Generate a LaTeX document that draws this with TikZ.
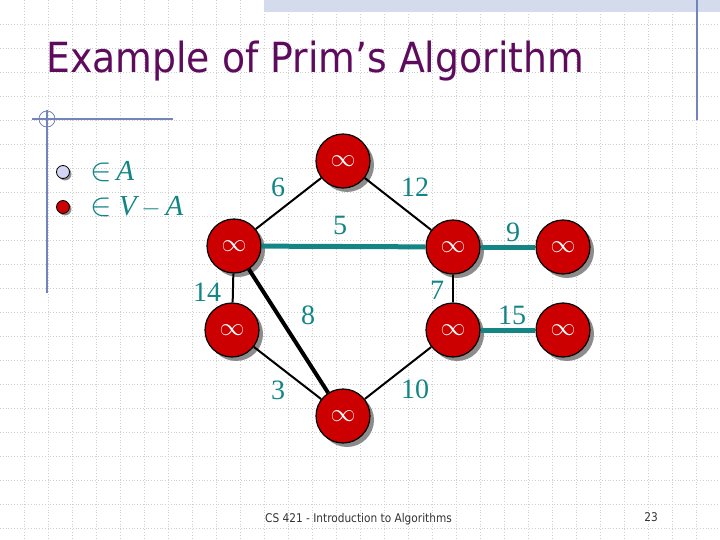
\documentclass[tikz,border=0pt]{standalone}
\usepackage{fontspec}
\setmainfont{Liberation Serif}
\newfontfamily\slidefont[FakeStretch=0.91]{DejaVu Sans}
\newfontfamily\footfont[FakeStretch=0.88]{DejaVu Sans}
\usepackage{tikz}
\usetikzlibrary{positioning,shadows}
\usepackage{xcolor}
\definecolor{primred}{HTML}{CC0000}
\definecolor{primteal}{HTML}{138585}
\definecolor{primpurple}{HTML}{5E0B5E}
\definecolor{rulerblue}{HTML}{7384BA}
\definecolor{bandblue}{HTML}{D3DBEC}
\definecolor{gridgrey}{HTML}{CFCFCF}
\definecolor{shadowgrey}{HTML}{8C8C8C}
\definecolor{setAfill}{HTML}{D4D4F4}
\newcommand{\elemof}{\scalebox{1.3}{$\in$}}
\tikzset{
  gridline/.style={
    draw=gridgrey,
    line width=0.8pt,
    dotted
  },
  ruler/.style={
    draw=rulerblue,
    line width=1.2pt
  },
  vertex/.style={
    circle,
    draw=black,
    line width=1.2pt,
    fill=primred,
    minimum size=54pt,
    inner sep=0pt,
    text=white,
    font=\fontsize{26}{26}\selectfont,
    drop shadow={shadow xshift=4pt, shadow yshift=-4pt, fill=shadowgrey, opacity=1}
  },
  legendball/.style={
    circle,
    draw=black,
    line width=0.8pt,
    minimum size=13pt,
    inner sep=0pt,
    drop shadow={shadow xshift=2pt, shadow yshift=-2pt, fill=shadowgrey, opacity=1}
  },
  plainedge/.style={
    draw=black,
    line width=2pt
  },
  heavyedge/.style={
    draw=black,
    line width=4pt
  },
  treeedge/.style={
    draw=primteal,
    line width=5pt
  },
  weight/.style={
    text=primteal,
    inner sep=0pt,
    font=\fontsize{28}{28}\selectfont
  },
  legendtext/.style={
    text=primteal,
    inner sep=0pt,
    font=\fontsize{29}{29}\selectfont\itshape
  },
  titletext/.style={
    text=primpurple,
    inner sep=0pt,
    font=\slidefont\fontsize{41.5}{42}\selectfont
  },
  footer/.style={
    text=black!80,
    inner sep=0pt,
    font=\footfont\fontsize{12}{12}\selectfont
  }
}
\begin{document}
\begin{tikzpicture}[x=1pt,y=-1pt]
\useasboundingbox (0,0) rectangle (720,540);
% slide background
\foreach \gx in {24,48,...,696} \draw[gridline] (\gx,0) -- (\gx,540);
\foreach \gy in {24,48,...,528} \draw[gridline] (0,\gy) -- (720,\gy);
\fill[bandblue] (264,0) rectangle (720,12);
\draw[ruler] (697,0) -- (697,120);
\draw[ruler] (32,119) -- (173,119);
\draw[ruler] (47,110) -- (47,293);
\draw[ruler, line width=0.8pt] (47,119) circle[radius=8];

\node[titletext, anchor=base west] (title) at (46,73) {Example of Prim’s Algorithm};

% legend
\node[legendball, fill=setAfill] (inA) at (63,172) {};
\node[legendball, fill=primred] (notA) at (63,207) {};
\node[legendtext, right=20pt of inA] (inAtext) {\elemof\,A};
\node[legendtext, right=20pt of notA] (notAtext) {\elemof\ V\,$-$\,A};

% vertices
\node[vertex] (top) at (343,161) {$\infty$};
\node[vertex] (lmid) at (234,246) {$\infty$};
\node[vertex] (rmid) at (453,247) {$\infty$};
\node[vertex] (rfar) at (563,247) {$\infty$};
\node[vertex] (llow) at (232,330) {$\infty$};
\node[vertex] (rlow) at (453,330) {$\infty$};
\node[vertex] (rfarlow) at (563,330) {$\infty$};
\node[vertex] (bot) at (343,416) {$\infty$};

% edges
\draw[plainedge] (top) -- (lmid);
\draw[plainedge] (top) -- (rmid);
\draw[treeedge] (lmid) -- (rmid);
\draw[treeedge] (rmid) -- (rfar);
\draw[plainedge] (rmid) -- (rlow);
\draw[treeedge] (rlow) -- (rfarlow);
\draw[plainedge] (lmid) -- (llow);
\draw[heavyedge] (lmid) -- (bot);
\draw[plainedge] (llow) -- (bot);
\draw[plainedge] (bot) -- (rlow);

% weights
\node[weight] (w6) at (278,187) {6};
\node[weight] (w12) at (415,187) {12};
\node[weight] (w5) at (340,225) {5};
\node[weight] (w9) at (513,232) {9};
\node[weight] (w7) at (437,290) {7};
\node[weight] (w15) at (512,315) {15};
\node[weight] (w14) at (207,292) {14};
\node[weight] (w8) at (308,315) {8};
\node[weight] (w3) at (278,390) {3};
\node[weight] (w10) at (415,389) {10};

% footer
\node[footer, anchor=base west] (course) at (265,522) {CS 421 - Introduction to Algorithms};
\node[footer] (page) at (651,517) {23};
\end{tikzpicture}
\end{document}
